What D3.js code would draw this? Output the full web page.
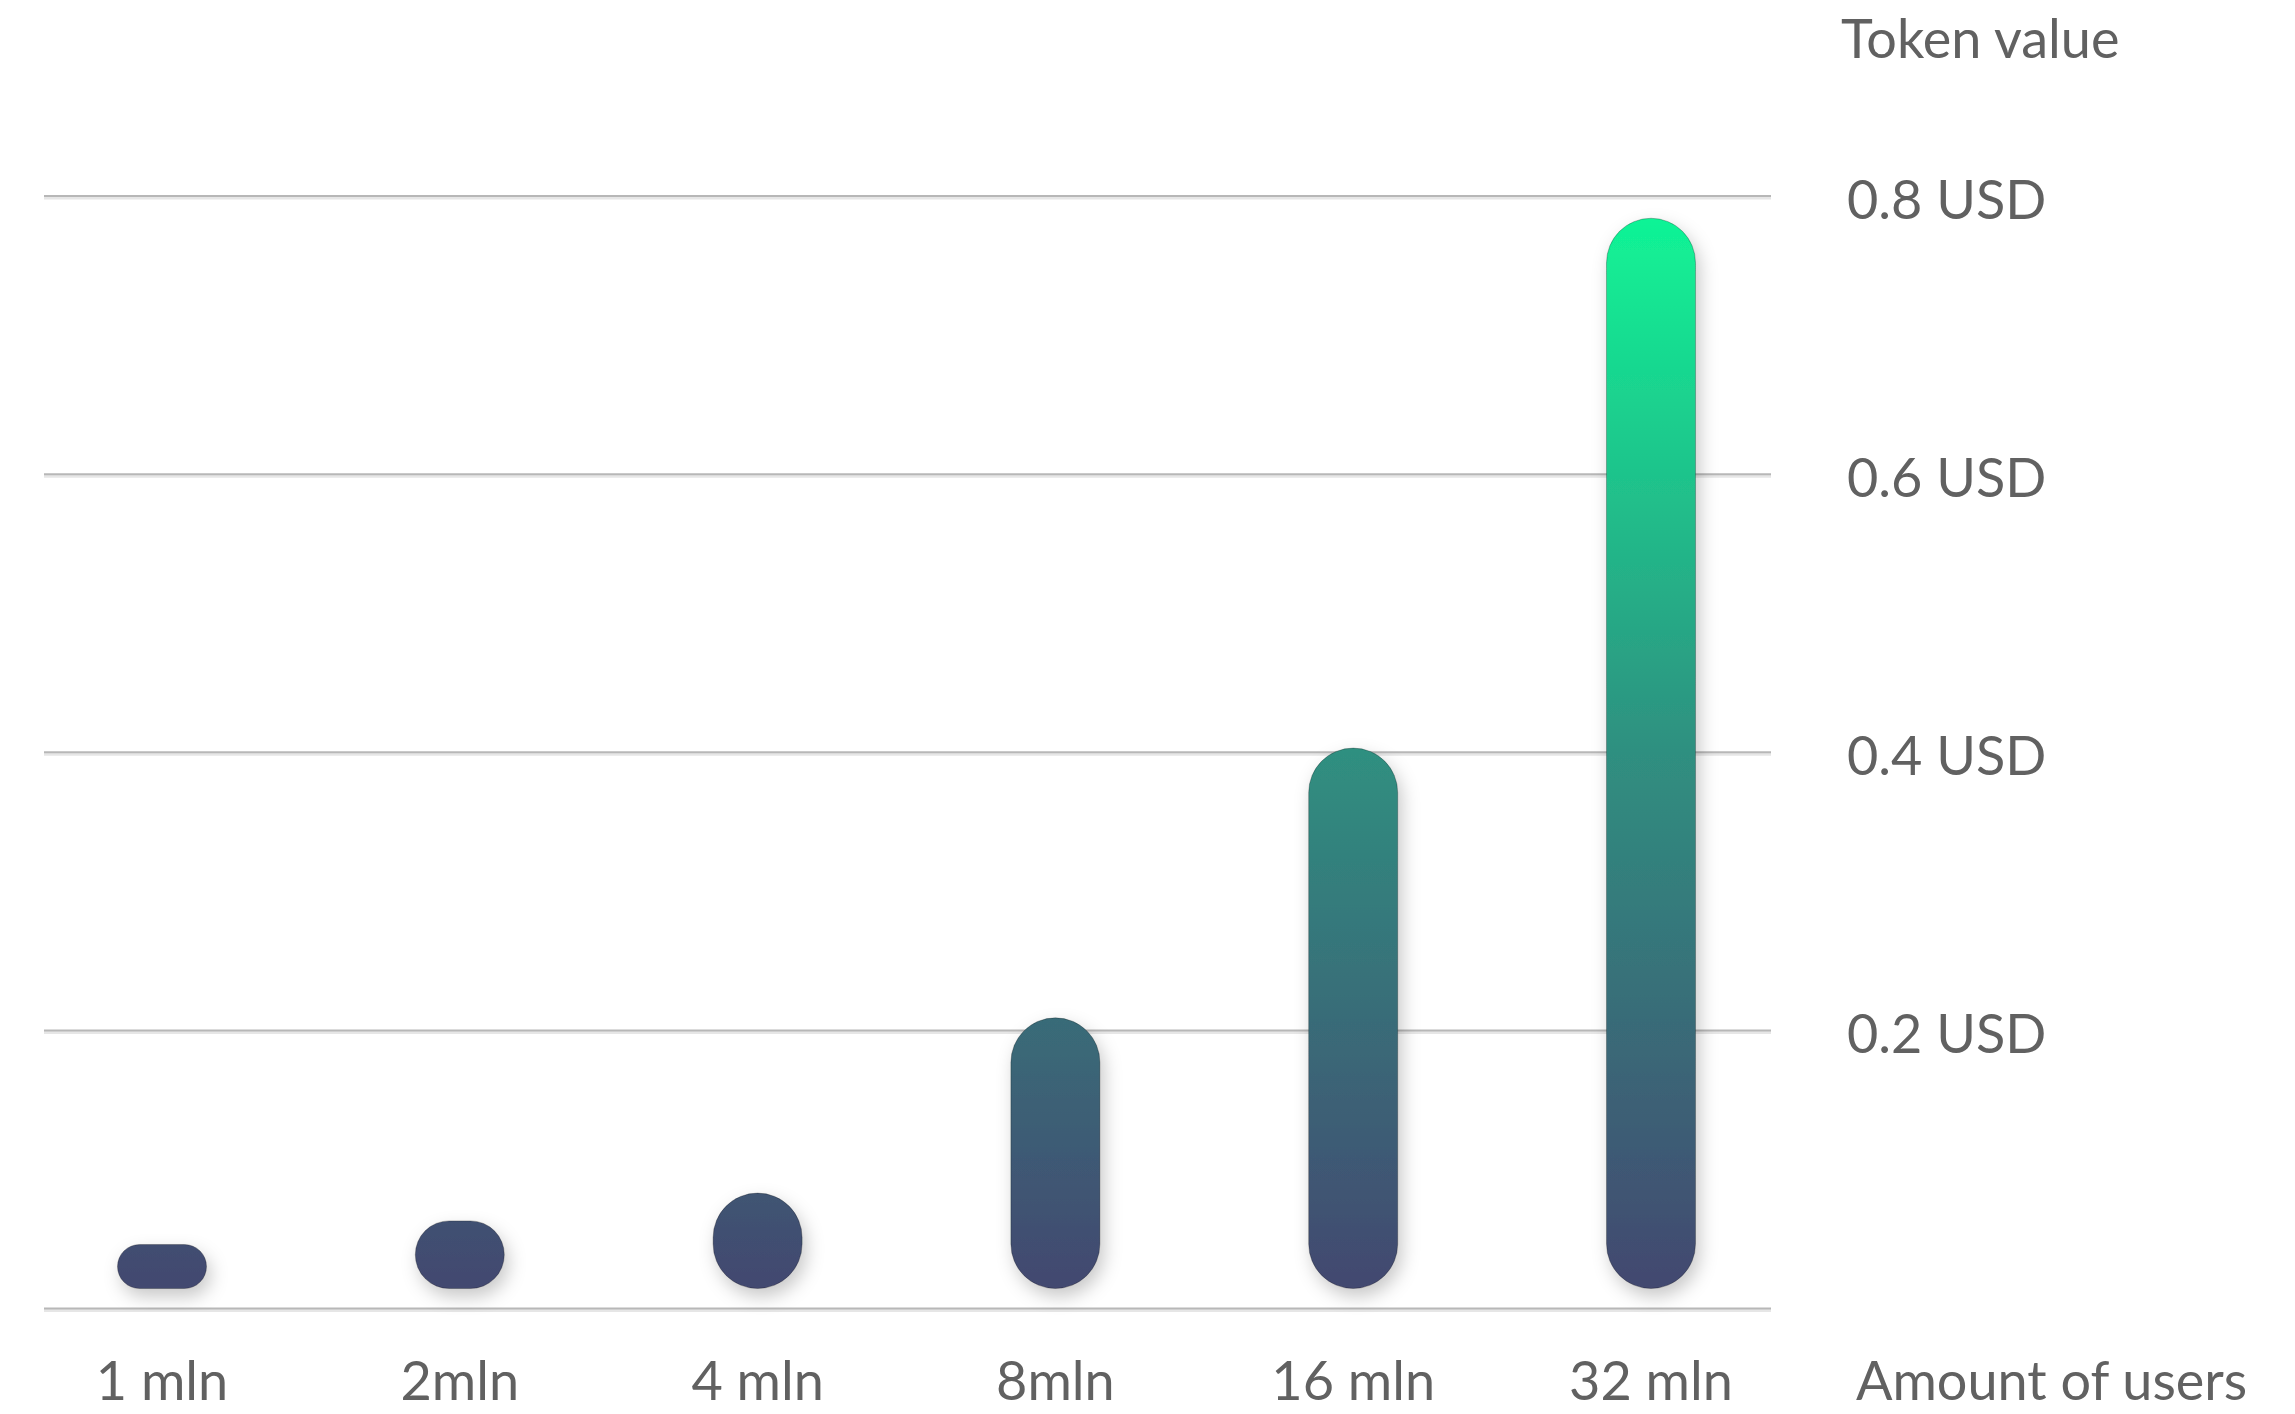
<!DOCTYPE html>
<html lang="en">
<head>
<meta charset="UTF-8">
<title>Token value by amount of users</title>
<script src="https://d3js.org/d3.v7.min.js"></script>
<style>
  html, body { margin: 0; padding: 0; background: #fff; }
  svg { display: block; }
  text { font-family: Lato, "Open Sans", sans-serif; fill: #616161; }
</style>
</head>
<body>
<svg width="2295" height="1414"></svg>
<script>
    // data
    const users = ["1 mln", "2mln", "4 mln", "8mln", "16 mln", "32 mln"];
    const tokenValue = [0.046, 0.063, 0.083, 0.209, 0.403, 0.784];
    const yTicks = [0, 0.2, 0.4, 0.6, 0.8];
    const yTickLabels = ["", "0.2 USD", "0.4 USD", "0.6 USD", "0.8 USD"];

    const svg = d3.select("svg");
    const gridLeft = 44, gridRight = 1771;
    const barW = 89, barGap = 20;

    const x = d3.scalePoint().domain(users).range([162, 1651]);
    const y = d3.scaleLinear().domain([0, 0.8]).range([1308.5, 196]);

    const defs = svg.append("defs");
    const grad = defs.append("linearGradient")
        .attr("id", "barGrad")
        .attr("gradientUnits", "userSpaceOnUse")
        .attr("x1", 0).attr("x2", 0)
        .attr("y1", y(0) - barGap).attr("y2", y(0.784));
    grad.append("stop").attr("offset", "0%").attr("stop-color", "#434870");
    grad.append("stop").attr("offset", "50%").attr("stop-color", "#2f8f80");
    grad.append("stop").attr("offset", "100%").attr("stop-color", "#10f496");

    const shadow = defs.append("filter").attr("id", "shadow")
        .attr("x", "-50%").attr("y", "-50%").attr("width", "200%").attr("height", "200%");
    shadow.append("feDropShadow")
        .attr("dx", 4).attr("dy", 8).attr("stdDeviation", 9)
        .attr("flood-color", "#000").attr("flood-opacity", 0.22);

    // grid lines (a faint second line under each one as a soft shadow)
    const grid = svg.append("g").attr("class", "grid");
    grid.selectAll("line.soft")
        .data(yTicks)
        .enter()
        .append("line")
        .attr("class", "soft")
        .attr("x1", gridLeft).attr("x2", gridRight)
        .attr("y1", d => y(d) + 2).attr("y2", d => y(d) + 2)
        .attr("stroke", "#e6e6e6")
        .attr("stroke-width", 3);
    grid.selectAll("line.main")
        .data(yTicks)
        .enter()
        .append("line")
        .attr("class", "main")
        .attr("x1", gridLeft).attr("x2", gridRight)
        .attr("y1", d => y(d)).attr("y2", d => y(d))
        .attr("stroke", "#b7b7b7")
        .attr("stroke-width", 2);

    // y labels on the right
    svg.append("g").attr("class", "ylabels")
        .selectAll("text")
        .data(yTicks)
        .enter()
        .append("text")
        .attr("x", 1847)
        .attr("y", d => y(d))
        .attr("dy", "0.42em")
        .attr("font-size", 54)
        .text((d, i) => yTickLabels[i]);

    svg.append("text")
        .attr("x", 1841).attr("y", 58)
        .attr("font-size", 54)
        .text("Token value");

    // bars
    const bars = users.map((u, i) => {
        const bottom = y(0) - barGap;
        const top = y(tokenValue[i]);
        return { u: u, x: x(u) - barW / 2, y: top, h: bottom - top };
    });

    svg.append("g").attr("class", "bars")
        .selectAll("rect")
        .data(bars)
        .enter()
        .append("rect")
        .attr("x", d => d.x)
        .attr("y", d => d.y)
        .attr("width", barW)
        .attr("height", d => d.h)
        .attr("rx", d => Math.min(barW, d.h) / 2)
        .attr("ry", d => Math.min(barW, d.h) / 2)
        .attr("fill", "url(#barGrad)")
        .attr("stroke", "rgba(0,0,0,0.25)")
        .attr("stroke-width", 1)
        .attr("filter", "url(#shadow)");

    // x labels
    svg.append("g").attr("class", "xlabels")
        .selectAll("text")
        .data(users)
        .enter()
        .append("text")
        .attr("x", d => x(d))
        .attr("y", 1400)
        .attr("text-anchor", "middle")
        .attr("font-size", 54)
        .text(d => d);

    svg.append("text")
        .attr("x", 1856).attr("y", 1400)
        .attr("font-size", 54)
        .text("Amount of users");
</script>
</body>
</html>
